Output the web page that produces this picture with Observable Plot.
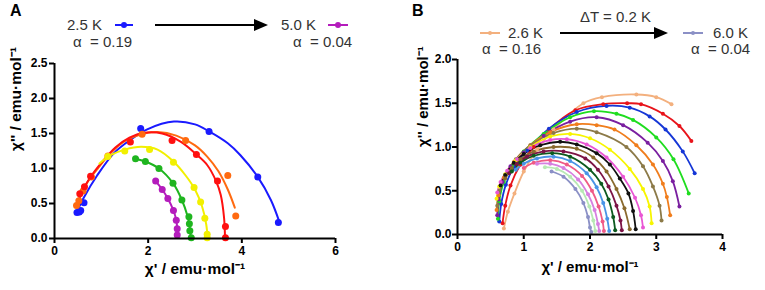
<!DOCTYPE html>
<html><head><meta charset="utf-8">
<script src="https://cdn.jsdelivr.net/npm/d3@7"></script>
<script src="https://cdn.jsdelivr.net/npm/@observablehq/plot@0.6"></script>
<style>
body{margin:0;background:#fff;}
#wrap{position:relative;width:765px;height:290px;overflow:hidden;font-family:"Liberation Sans",Arial,sans-serif;}
.pl{position:absolute;top:0;}
.t{position:absolute;font-size:15px;line-height:15px;color:#333;white-space:pre;}
.pn{position:absolute;font-size:16px;font-weight:bold;line-height:16px;color:#000;}
.ln{position:absolute;height:2px;}
.dt{position:absolute;border-radius:50%;}
.ar{position:absolute;height:2px;background:#000;}
.ah{position:absolute;width:0;height:0;border-top:6px solid transparent;border-bottom:6px solid transparent;border-left:14px solid #000;}
</style></head><body><div id="wrap"></div>
<script>
// ---------- Panel A data ----------
const seriesA = ["2.5 K","3.0 K","3.5 K","4.0 K","4.5 K","5.0 K"];
const colorsA = ["#1a1aff","#ff6a10","#ff1010","#f2f000","#1fb51f","#b41cbc"];
const a25Dots = [[0.48,0.37],[0.53,0.38],[0.56,0.40],[0.63,0.51],[1.84,1.57],[3.30,1.53],[4.34,0.88],[4.78,0.23]];
const a25Fit  = [[0.49,0.40],[0.63,0.59],[0.91,0.90],[1.27,1.22],[1.62,1.41],[1.98,1.56],[2.55,1.67],[3.0,1.63],[3.3,1.53],[3.7,1.36],[3.97,1.19],[4.34,0.88],[4.62,0.55],[4.80,0.24]];
const a30Dots = [[0.47,0.47],[0.52,0.54],[0.61,0.68],[0.79,0.88],[1.14,1.18],[1.87,1.49],[2.80,1.40],[3.70,0.90],[3.87,0.32]];
const a30Fit  = [[0.46,0.44],[0.55,0.60],[0.70,0.80],[0.90,0.98],[1.20,1.22],[1.50,1.39],[1.85,1.49],[2.20,1.52],[2.60,1.47],[3.00,1.33],[3.26,1.17],[3.50,0.96],[3.70,0.70],[3.85,0.44]];
const a35Dots = [[0.54,0.64],[0.64,0.74],[0.77,0.89],[1.62,1.38],[2.51,1.40],[3.03,1.20],[3.48,0.82],[3.65,0.17],[3.65,0.01]];
const a35Fit  = [[0.50,0.52],[0.60,0.68],[0.75,0.86],[1.00,1.08],[1.30,1.30],[1.60,1.44],[1.91,1.51],[2.30,1.50],[2.70,1.38],[3.03,1.20],[3.26,1.05],[3.45,0.82],[3.55,0.62],[3.62,0.30],[3.64,0.04]];
const a40Dots = [[1.14,1.17],[1.50,1.25],[2.03,1.27],[2.54,1.09],[2.98,0.73],[3.12,0.52],[3.21,0.29],[3.26,0.06],[3.26,0.01]];
const a40Fit  = [[0.96,1.07],[1.20,1.19],[1.50,1.27],[1.85,1.31],[2.20,1.27],[2.54,1.10],[2.80,0.90],[3.00,0.70],[3.15,0.46],[3.24,0.20],[3.27,0.00]];
const a45Dots = [[1.73,1.14],[1.94,1.10],[2.23,1.00],[2.53,0.79],[2.72,0.55],[2.87,0.31],[2.88,0.21],[2.89,0.11],[2.92,0.01]];
const a45Fit  = [[1.73,1.14],[1.94,1.10],[2.23,1.00],[2.53,0.79],[2.72,0.55],[2.84,0.32],[2.89,0.15],[2.91,0.00]];
const a50Dots = [[2.16,0.82],[2.30,0.70],[2.42,0.57],[2.54,0.40],[2.60,0.26],[2.62,0.14],[2.62,0.05]];
const a50Fit  = [[2.16,0.82],[2.30,0.70],[2.42,0.57],[2.54,0.40],[2.60,0.26],[2.62,0.14],[2.62,0.05]];
const ticksAx = [0,2,4,6];
const ticksAy = [0,0.5,1.0,1.5,2.0,2.5];

// ---------- Panel B data ----------
const seriesB = ["2.6 K","2.8 K","3.0 K","3.2 K","3.4 K","3.6 K","3.8 K","4.0 K","4.2 K","4.4 K","4.6 K","4.8 K","5.0 K","5.2 K","5.4 K","5.6 K","5.8 K","6.0 K"];
const colorsB = ["#f3b07e","#e8141b","#1536d6","#1fdd1f","#7a1fa0","#f07d1c","#8c7a48","#f7f500","#e956d4","#111111","#8a6a2e","#7d1446","#0d5a1f","#4a94e6","#ef5a86","#d67fe0","#b7e8b4","#8b90c6"];
const b26 = [[0.70,0.07],[0.76,0.26],[0.86,0.47],[1.0,0.72],[1.2,0.97],[1.45,1.2],[1.9,1.50],[2.18,1.57],[2.7,1.60],[3.0,1.57],[3.23,1.49]];
const b28 = [[0.68,0.13],[0.72,0.33],[0.80,0.56],[0.95,0.80],[1.15,1.0],[1.38,1.2],[1.78,1.42],[2.2,1.49],[2.56,1.50],[2.77,1.49],[3.1,1.38],[3.35,1.24],[3.53,1.07]];
const b30 = [[0.63,0.15],[0.66,0.35],[0.73,0.57],[0.85,0.77],[1.05,0.96],[1.38,1.21],[1.8,1.40],[2.25,1.47],[2.6,1.45],[2.9,1.35],[3.14,1.20],[3.4,0.95],[3.58,0.70]];
const b32 = [[0.61,0.18],[0.63,0.38],[0.70,0.60],[0.82,0.78],[1.0,0.95],[1.3,1.15],[1.7,1.34],[2.06,1.41],[2.4,1.38],[2.65,1.31],[3.0,1.11],[3.26,0.86],[3.49,0.47]];
const b34 = [[0.60,0.22],[0.62,0.40],[0.68,0.60],[0.80,0.78],[1.0,0.94],[1.3,1.13],[1.7,1.29],[2.1,1.34],[2.5,1.25],[2.87,1.05],[3.1,0.84],[3.25,0.61],[3.35,0.32]];
const b36 = [[0.59,0.28],[0.62,0.45],[0.70,0.65],[0.85,0.83],[1.1,1.02],[1.4,1.17],[1.8,1.26],[2.1,1.25],[2.37,1.20],[2.7,1.02],[2.95,0.80],[3.1,0.58],[3.16,0.43],[3.21,0.22]];
const b38 = [[0.60,0.33],[0.63,0.50],[0.72,0.68],[0.88,0.86],[1.1,1.02],[1.45,1.16],[1.8,1.21],[2.1,1.17],[2.55,1.00],[2.8,0.78],[2.95,0.55],[3.05,0.33],[3.08,0.16]];
const b40 = [[0.59,0.41],[0.63,0.55],[0.72,0.69],[0.88,0.85],[1.1,1.0],[1.4,1.12],[1.7,1.15],[2.0,1.10],[2.3,0.97],[2.6,0.75],[2.8,0.52],[2.9,0.32],[2.93,0.13]];
const b42 = [[0.60,0.48],[0.65,0.60],[0.75,0.73],[0.9,0.86],[1.1,0.99],[1.4,1.08],[1.65,1.09],[1.95,1.03],[2.25,0.88],[2.5,0.66],[2.68,0.42],[2.77,0.22],[2.80,0.08]];
const b44 = [[0.65,0.56],[0.72,0.68],[0.85,0.82],[1.0,0.92],[1.25,1.02],[1.55,1.06],[1.8,1.03],[2.1,0.93],[2.3,0.80],[2.45,0.64],[2.58,0.47],[2.65,0.27],[2.69,0.06]];
const b46 = [[0.72,0.64],[0.82,0.76],[0.95,0.86],[1.15,0.95],[1.45,1.0],[1.8,0.98],[2.05,0.88],[2.25,0.72],[2.4,0.52],[2.52,0.30],[2.60,0.06]];
const b48 = [[0.78,0.70],[0.9,0.81],[1.05,0.89],[1.3,0.95],[1.6,0.95],[1.93,0.87],[2.12,0.74],[2.28,0.55],[2.4,0.33],[2.46,0.16],[2.48,0.05]];
const b50 = [[0.82,0.72],[0.95,0.82],[1.15,0.90],[1.43,0.93],[1.7,0.89],[2.0,0.74],[2.17,0.58],[2.28,0.40],[2.35,0.20],[2.38,0.05]];
const b52 = [[0.88,0.74],[1.0,0.81],[1.2,0.87],[1.45,0.89],[1.7,0.84],[1.95,0.70],[2.1,0.54],[2.2,0.36],[2.26,0.18],[2.29,0.04]];
const b54 = [[1.0,0.76],[1.15,0.82],[1.4,0.85],[1.65,0.80],[1.88,0.67],[2.03,0.50],[2.13,0.32],[2.19,0.15],[2.21,0.04]];
const b56 = [[1.2,0.81],[1.4,0.81],[1.6,0.76],[1.82,0.63],[1.97,0.46],[2.07,0.28],[2.12,0.12],[2.14,0.04]];
const b58 = [[1.32,0.77],[1.5,0.75],[1.7,0.66],[1.88,0.50],[1.99,0.32],[2.05,0.16],[2.08,0.04]];
const b60 = [[1.42,0.72],[1.6,0.66],[1.78,0.52],[1.9,0.36],[1.97,0.20],[2.0,0.08],[2.02,0.03]];
const ticksBx = [0,1,2,3,4];
const ticksBy = [0,0.5,1.0,1.5,2.0];

const xLabel = "χ' / emu·mol⁻¹";
const yLabel = "χ'' / emu·mol⁻¹";

// ---------- build tables ----------
const toRows = (lists, names) => lists.flatMap((pts, i) => pts.map(([x, y]) => ({s: names[i], x, y})));
const dotsA = toRows([a25Dots,a30Dots,a35Dots,a40Dots,a45Dots,a50Dots], seriesA);
const fitA  = toRows([a25Fit,a30Fit,a35Fit,a40Fit,a45Fit,a50Fit], seriesA);
const rowsB = toRows([b26,b28,b30,b32,b34,b36,b38,b40,b42,b44,b46,b48,b50,b52,b54,b56,b58,b60], seriesB);

const baseStyle = {fontFamily: "'Liberation Sans', Arial, sans-serif", fontSize: "12px", fontWeight: "bold", color: "#000", background: "transparent", overflow: "visible"};

const plotA = Plot.plot({
  width: 380, height: 290,
  marginLeft: 54, marginRight: 45, marginTop: 63, marginBottom: 52,
  x: {domain: [0, 6]}, y: {domain: [0, 2.5]},
  color: {domain: seriesA, range: colorsA},
  style: baseStyle,
  marks: [
    Plot.line(fitA, {x: "x", y: "y", z: "s", stroke: "s", curve: "catmull-rom", strokeWidth: 2}),
    Plot.dot(dotsA, {x: "x", y: "y", fill: "s", r: 3.5}),
    Plot.axisX({ticks: ticksAx, tickSize: 5, tickPadding: 3, strokeWidth: 2, label: null, tickFormat: d => String(d)}),
    Plot.axisY({ticks: ticksAy, tickSize: 5, tickPadding: 2, strokeWidth: 2, label: null, tickFormat: d3.format(".1f")}),
    Plot.ruleY([0], {strokeWidth: 2}),
    Plot.ruleX([0], {strokeWidth: 2}),
    Plot.text([xLabel], {text: d => d, frameAnchor: "bottom", dy: 35, fontSize: 15.5}),
    Plot.text([yLabel], {text: d => d, frameAnchor: "left", rotate: -90, dx: -38, fontSize: 15.5})
  ]
});

const plotB = Plot.plot({
  width: 380, height: 290,
  marginLeft: 72, marginRight: 43, marginTop: 59, marginBottom: 56,
  x: {domain: [0, 4]}, y: {domain: [0, 2]},
  color: {domain: seriesB, range: colorsB},
  style: baseStyle,
  marks: [
    Plot.line(rowsB, {x: "x", y: "y", z: "s", stroke: "s", curve: "catmull-rom", strokeWidth: 1.8}),
    Plot.dot(rowsB, {x: "x", y: "y", fill: "s", r: 2}),
    Plot.axisX({ticks: ticksBx, tickSize: 5, tickPadding: 3, strokeWidth: 2, label: null, tickFormat: d => String(d)}),
    Plot.axisY({ticks: ticksBy, tickSize: 5, tickPadding: 1, strokeWidth: 2, label: null, tickFormat: d3.format(".1f")}),
    Plot.ruleY([0], {strokeWidth: 2}),
    Plot.ruleX([0], {strokeWidth: 2}),
    Plot.text([xLabel], {text: d => d, frameAnchor: "bottom", dy: 37, fontSize: 15}),
    Plot.text([yLabel], {text: d => d, frameAnchor: "left", rotate: -90, dx: -34, fontSize: 15})
  ]
});

const wrap = document.getElementById("wrap");
plotA.classList.add("pl"); plotA.style.left = "0px";
plotB.classList.add("pl"); plotB.style.left = "385px";
wrap.append(plotA, plotB);

// ---------- headers / legends ----------
function el(cls, css, text) {
  const d = document.createElement("div");
  d.className = cls;
  Object.assign(d.style, css);
  if (text != null) d.textContent = text;
  wrap.appendChild(d);
  return d;
}
function key(x1, x2, y, color, r) {
  el("ln", {left: x1 + "px", top: (y - 1) + "px", width: (x2 - x1) + "px", background: color});
  const cx = (x1 + x2) / 2;
  el("dt", {left: (cx - r) + "px", top: (y - r) + "px", width: 2 * r + "px", height: 2 * r + "px", background: color});
}
function arrow(x1, x2, y) {
  el("ar", {left: x1 + "px", top: (y - 1) + "px", width: (x2 - x1 - 13) + "px"});
  el("ah", {left: (x2 - 14) + "px", top: (y - 6) + "px"});
}
// Panel A
el("pn", {left: "10px", top: "3px"}, "A");
el("t", {left: "67px", top: "17px"}, "2.5 K");
key(115, 133, 25, colorsA[0], 3);
el("t", {left: "73px", top: "34px"}, "α  = 0.19");
arrow(155, 268, 25);
el("t", {left: "281px", top: "17px"}, "5.0 K");
key(328, 348, 25, colorsA[5], 3);
el("t", {left: "293px", top: "34px"}, "α  = 0.04");
// Panel B
el("pn", {left: "412px", top: "3px"}, "B");
el("t", {left: "580px", top: "9px"}, "ΔT = 0.2 K");
arrow(560, 668, 33);
key(480, 500, 33, colorsB[0], 2.2);
el("t", {left: "508px", top: "25px"}, "2.6 K");
el("t", {left: "482px", top: "41px"}, "α  = 0.16");
key(683, 703, 33, colorsB[17], 2.2);
el("t", {left: "713px", top: "25px"}, "6.0 K");
el("t", {left: "691px", top: "41px"}, "α  = 0.04");
</script></body></html>
